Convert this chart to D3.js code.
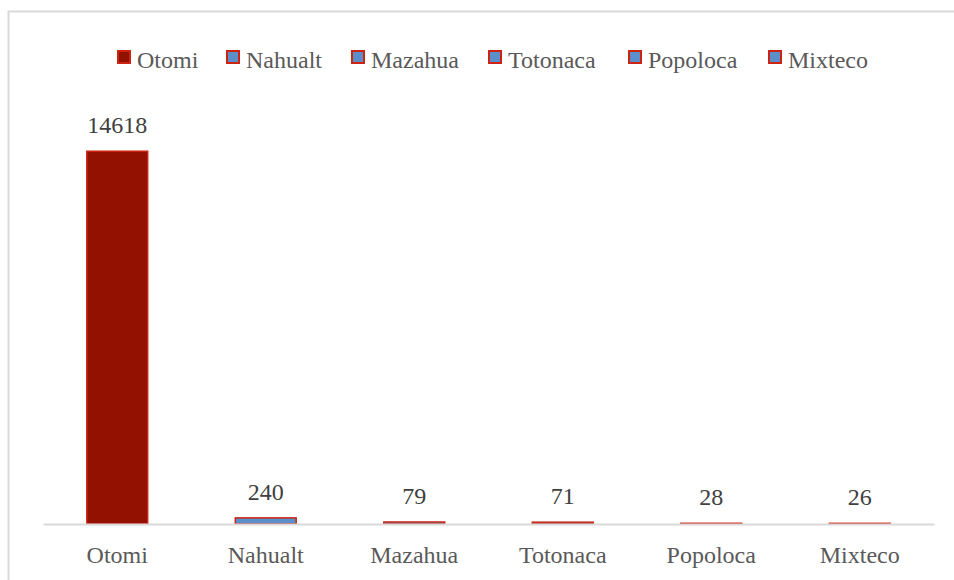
<!DOCTYPE html>
<html><head><meta charset="utf-8">
<script src="https://cdn.jsdelivr.net/npm/d3@7"></script>
<style>body{margin:0;background:#fff}svg{display:block}</style>
</head><body><svg id="c" width="954" height="580"></svg>
<script>
const categories = ["Otomi","Nahualt","Mazahua","Totonaca","Popoloca","Mixteco"];
const values = [14618,240,79,71,28,26];
const legendLabels = ["Otomi","Nahualt","Mazahua","Totonaca","Popoloca","Mixteco"];
const yMax = 16000;

(function(){
const svg = d3.select("#c");
const font = "Liberation Serif";
const fs = 24;
const textColor = "#595959";
const stroke = "#cc2410";
const fills = ["#931100","#5b8fcb","#5b8fcb","#5b8fcb","#5b8fcb","#5b8fcb"];

// chart border
svg.append("rect").attr("x",8.5).attr("y",11.5).attr("width",960).attr("height",600)
  .attr("fill","none").attr("stroke","#d9d9d9").attr("stroke-width",2);

const pl = 43, pr = 934, pt = 116, pb = 524;
const x = d3.scaleBand().domain(categories).range([pl,pr]).paddingInner(0.59).paddingOuter(0.295);
const y = d3.scaleLinear().domain([0,yMax]).range([pb,pt]);

// bars
svg.selectAll("rect.bar").data(values).join("rect").attr("class","bar")
  .attr("x",(d,i)=>x(categories[i])).attr("width",x.bandwidth())
  .attr("y",d=>y(d)).attr("height",d=>pb-y(d))
  .attr("fill",(d,i)=>fills[i]).attr("stroke",stroke).attr("stroke-width",1.5);

// axis
const ax = svg.append("g").attr("transform",`translate(0,${pb})`)
  .call(d3.axisBottom(x).tickSize(0));
ax.select(".domain").attr("stroke","#d9d9d9").attr("stroke-width",2);
ax.selectAll("text").attr("y",39).attr("dy",0)
  .attr("font-family",font).attr("font-size",fs).attr("fill",textColor);

// labels
svg.selectAll("text.lbl").data(values).join("text").attr("class","lbl")
  .attr("x",(d,i)=>x(categories[i])+x.bandwidth()/2).attr("y",d=>y(d)-18)
  .attr("text-anchor","middle").attr("font-family",font).attr("font-size",fs).attr("fill","#404040")
  .text(d=>d);

// legend
const legX = [117,226,351,488,628,768];
const lg = svg.selectAll("g.leg").data(legendLabels).join("g").attr("class","leg")
  .attr("transform",(d,i)=>`translate(${legX[i]},50)`);
lg.append("rect").attr("x",1).attr("y",1).attr("width",12).attr("height",12)
  .attr("fill",(d,i)=>fills[i]).attr("stroke",stroke).attr("stroke-width",2);
lg.append("text").attr("x",20).attr("y",18).attr("font-family",font).attr("font-size",fs)
  .attr("fill",textColor).text(d=>d);
})();
</script></body></html>
